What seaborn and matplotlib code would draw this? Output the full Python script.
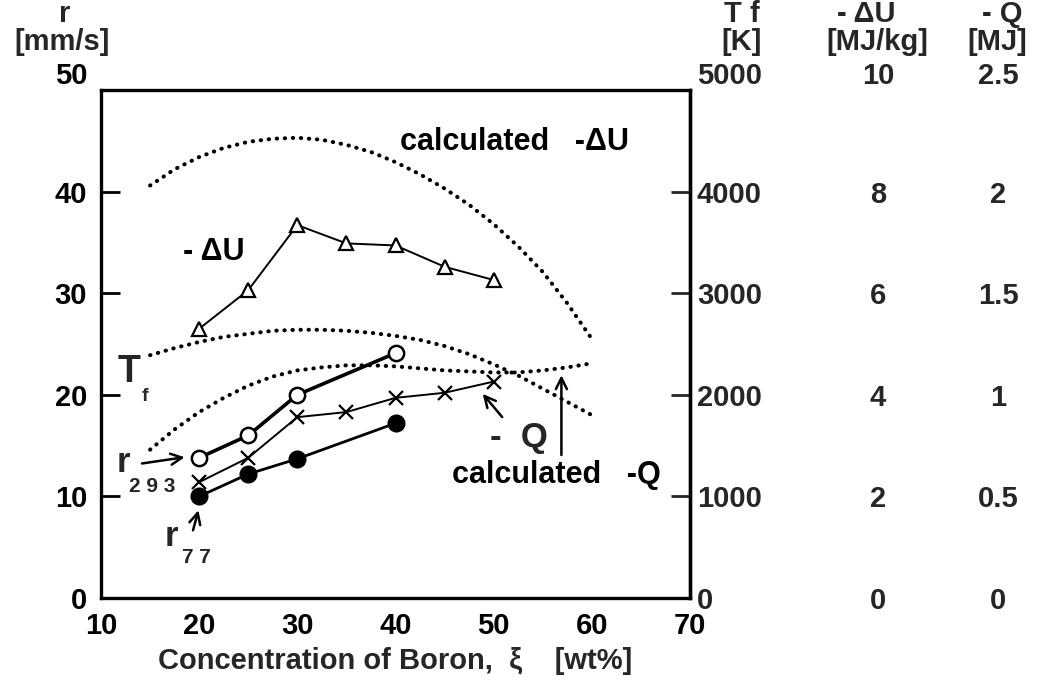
import matplotlib
matplotlib.use("Agg")
import matplotlib.pyplot as plt
import seaborn as sns
from matplotlib.ticker import FixedLocator

# ---------------- data ----------------
boron_r = [20, 25, 30, 40]
r293 = [13.8, 16.0, 20.0, 24.1]          # mm/s
r77 = [10.0, 12.2, 13.7, 17.2]           # mm/s

boron_m = [20, 25, 30, 35, 40, 45, 50]
neg_q = [0.57, 0.69, 0.89, 0.915, 0.985, 1.01, 1.065]       # MJ
neg_du = [5.3, 6.06, 7.34, 6.98, 6.94, 6.52, 6.26]          # MJ/kg

calc_x = [15, 17.5, 20, 22.5, 25, 27.5, 30, 32.5, 35, 37.5, 40,
          42.5, 45, 47.5, 50, 52.5, 55, 57.5, 60]
calc_du = [8.12, 8.44, 8.68, 8.86, 8.98, 9.04, 9.06, 9.02, 8.92, 8.78, 8.58,
           8.34, 8.06, 7.74, 7.36, 6.92, 6.42, 5.80, 5.10]        # MJ/kg
calc_tf = [2390, 2460, 2520, 2570, 2600, 2630, 2640, 2640, 2630, 2610, 2580,
           2540, 2480, 2400, 2300, 2190, 2060, 1930, 1800]        # K
calc_q = [0.73, 0.83, 0.915, 0.985, 1.045, 1.09, 1.12, 1.135, 1.145, 1.145, 1.14,
          1.13, 1.12, 1.115, 1.11, 1.11, 1.12, 1.135, 1.155]      # MJ

x_ticks = [10, 20, 30, 40, 50, 60, 70]
r_ticks = [0, 10, 20, 30, 40, 50]
tf_ticks = [0, 1000, 2000, 3000, 4000, 5000]
du_ticks = [0, 2, 4, 6, 8, 10]
du_labels = ["0", "2", "4", "6", "8", "10"]
q_ticks = [0, 0.5, 1, 1.5, 2, 2.5]
q_labels = ["0", "0.5", "1", "1.5", "2", "2.5"]

# ---------------- style ----------------
sns.set_theme(style="white")
FONT = ["Liberation Sans", "DejaVu Sans"]
plt.rcParams["font.family"] = FONT
plt.rcParams["font.weight"] = "bold"
FS = 21

W, H = 1038, 684
fig = plt.figure(figsize=(W / 100, H / 100), dpi=100)
L, R, T, B = 101, 690, 90, 598
ax = fig.add_axes([L / W, 1 - B / H, (R - L) / W, (B - T) / H])

ax.set_xlim(10, 70)
ax.set_ylim(0, 50)
for s in ax.spines.values():
    s.set_linewidth(2.4)
    s.set_color("black")
ax.xaxis.set_major_locator(FixedLocator(x_ticks))
ax.yaxis.set_major_locator(FixedLocator(r_ticks))
ax.tick_params(axis="both", direction="in", length=14, width=2, colors="black",
               labelsize=FS)
ax.tick_params(axis="x", pad=10)
ax.tick_params(axis="y", pad=10)
ax.set_xlabel("Concentration of Boron,  ξ    [wt%]", fontsize=FS,
              fontweight="bold", labelpad=5)
for lab in ax.get_yticklabels():
    if lab.get_text() == "50":
        lab.set_va("bottom")

dot_kw = dict(color="black", linewidth=2.9, linestyle=(0, (0.1, 1.9)),
              dash_capstyle="round")

# temperature axis (right spine)
ax_tf = ax.twinx()
ax_tf.set_ylim(0, 5000)
ax_tf.yaxis.set_major_locator(FixedLocator(tf_ticks))
ax_tf.tick_params(axis="y", direction="in", length=14, width=2, labelsize=FS, pad=5)
for sp in ["left", "top", "bottom"]:
    ax_tf.spines[sp].set_visible(False)
ax_tf.spines["right"].set_linewidth(2.4)
ax_tf.spines["right"].set_color("black")
for lab in ax_tf.get_yticklabels():
    if lab.get_text() == "5000":
        lab.set_va("bottom")

# -dU axis
ax_du = ax.twinx()
ax_du.set_ylim(0, 10)
ax_du.spines["right"].set_position(("axes", (878 - L) / (R - L)))
for sp in ax_du.spines.values():
    sp.set_visible(False)
ax_du.yaxis.set_major_locator(FixedLocator(du_ticks))
ax_du.set_yticklabels(du_labels)
ax_du.tick_params(axis="y", length=0, pad=0, labelsize=FS)
for lab in ax_du.get_yticklabels():
    lab.set_ha("center")
    if lab.get_text() == "10":
        lab.set_va("bottom")

# -Q axis
ax_q = ax.twinx()
ax_q.set_ylim(0, 2.5)
ax_q.spines["right"].set_position(("axes", (998 - L) / (R - L)))
for sp in ax_q.spines.values():
    sp.set_visible(False)
ax_q.yaxis.set_major_locator(FixedLocator(q_ticks))
ax_q.set_yticklabels(q_labels)
ax_q.tick_params(axis="y", length=0, pad=0, labelsize=FS)
for lab in ax_q.get_yticklabels():
    lab.set_ha("center")
    if lab.get_text() == "2.5":
        lab.set_va("bottom")

for a in (ax_tf, ax_du, ax_q):
    a.grid(False)

# ---------------- calculated curves ----------------
sns.lineplot(x=calc_x, y=calc_du, ax=ax_du, **dot_kw)
sns.lineplot(x=calc_x, y=calc_tf, ax=ax_tf, **dot_kw)
sns.lineplot(x=calc_x, y=calc_q, ax=ax_q, **dot_kw)

# ---------------- measured data ----------------
sns.lineplot(x=boron_m, y=neg_du, ax=ax_du, color="black", linewidth=1.4,
             marker="^", markersize=10, markerfacecolor="white",
             markeredgecolor="black", markeredgewidth=1.6)
sns.lineplot(x=boron_m, y=neg_q, ax=ax_q, color="black", linewidth=1.4,
             marker="x", markersize=10, markeredgecolor="black",
             markeredgewidth=1.6)
sns.lineplot(x=boron_r, y=r293, ax=ax, color="black", linewidth=2.6,
             marker="o", markersize=11, markerfacecolor="white",
             markeredgecolor="black", markeredgewidth=1.8, zorder=5)
sns.lineplot(x=boron_r, y=r77, ax=ax, color="black", linewidth=2.0,
             marker="o", markersize=12, markerfacecolor="black",
             markeredgecolor="black", markeredgewidth=1.0, zorder=5)
ax.set_zorder(ax_q.get_zorder() + 1)
ax.patch.set_visible(False)
for a in (ax, ax_du, ax_tf, ax_q):
    a.set_xlim(10, 70)
    a.set_ylabel("")

# ---------------- annotations ----------------
tk = dict(fontsize=FS + 1, fontweight="bold", color="black")
ax.text(21.5, 34.1, "- ΔU", ha="center", va="center", **tk)
ax.text(52.1, 44.9, "calculated   -ΔU", ha="center", va="center", **tk)
ax.text(56.4, 12.1, "calculated   -Q", ha="center", va="center", **tk)
ax.text(52.6, 15.8, "-  Q", ha="center", va="center", fontsize=FS + 4,
        fontweight="bold")
ax.text(12.9, 22.2, "T", ha="center", va="center", fontsize=FS + 6, fontweight="bold")
ax.text(14.5, 19.8, "f", ha="center", va="center", fontsize=14, fontweight="bold")
ax.text(12.3, 13.3, "r", ha="center", va="center", fontsize=FS + 4, fontweight="bold")
ax.text(15.25, 11.0, "2 9 3", ha="center", va="center", fontsize=15, fontweight="bold")
ax.text(17.2, 6.1, "r", ha="center", va="center", fontsize=FS + 4, fontweight="bold")
ax.text(19.7, 4.0, "7 7", ha="center", va="center", fontsize=15, fontweight="bold")

arr = dict(arrowstyle="->", lw=1.8, color="black", mutation_scale=20)
ax.annotate("", xy=(18.8, 13.9), xytext=(13.9, 13.2), arrowprops=arr)
ax.annotate("", xy=(20.0, 8.9), xytext=(19.3, 6.4), arrowprops=arr)
ax.annotate("", xy=(48.7, 20.3), xytext=(51.05, 17.6), arrowprops=arr)
ax.annotate("", xy=(56.9, 22.2), xytext=(56.9, 13.8), arrowprops=arr)

# ---------------- header labels ----------------
def ftext(x, y, s, **kw):
    fig.text(x / W, 1 - y / H, s, ha="center", va="center", fontsize=FS,
             fontweight="bold", **kw)

ftext(65, 14, "r")
ftext(62, 42, "[mm/s]")
ftext(742, 14, "T f")
ftext(742, 42, "[K]")
ftext(866, 14, "- ΔU")
ftext(877, 42, "[MJ/kg]")
ftext(1002, 14, "- Q")
ftext(997, 42, "[MJ]")

fig.savefig("out.png", dpi=100)
